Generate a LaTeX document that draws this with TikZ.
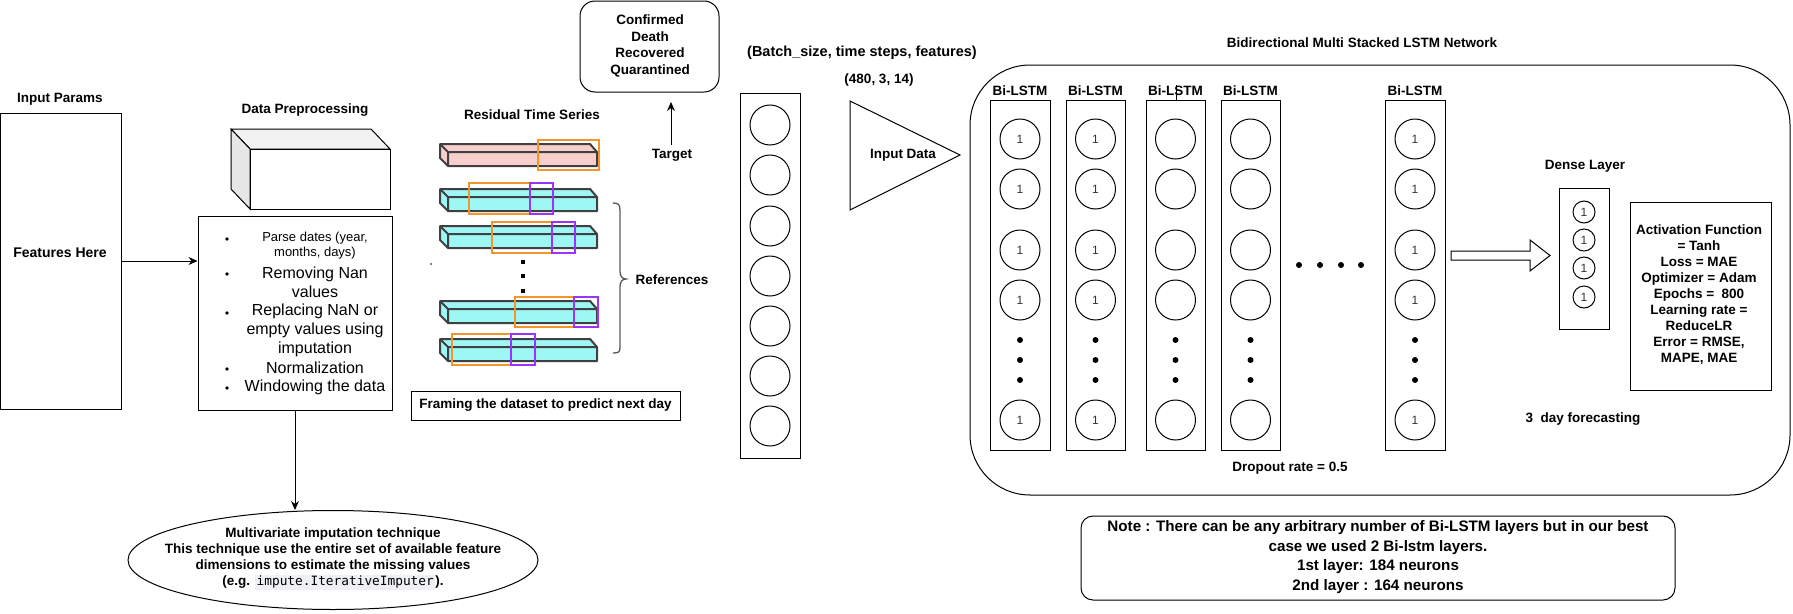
\documentclass[tikz,border=0pt]{standalone}
\usepackage{fontspec}
\setmainfont{Liberation Sans}
\setmonofont{DejaVu Sans Mono}
\usetikzlibrary{arrows.meta,shapes.geometric}

\definecolor{barpink}{HTML}{F8CECC}
\definecolor{barcyan}{HTML}{9CF7F5}
\definecolor{barline}{HTML}{404040}
\definecolor{winorange}{HTML}{F0962D}
\definecolor{winpurple}{HTML}{9933FF}
\definecolor{sidegray}{HTML}{E6E6E6}
\definecolor{topgray}{HTML}{F2F2F2}
\definecolor{unitgray}{HTML}{333333}
\definecolor{codebg}{HTML}{EEF0F3}
\definecolor{bracegray}{HTML}{595959}

\tikzset{
  lbl/.style={font=\fontsize{13.5}{16.5}\selectfont\bfseries, align=center, inner sep=0},
  plain/.style={font=\fontsize{16}{19}\selectfont, align=center, inner sep=0},
  plainsm/.style={font=\fontsize{13}{15}\selectfont, align=center, inner sep=0},
  box/.style={draw, line width=1, inner sep=0},
  unit/.style={draw, circle, line width=1, minimum size=40, inner sep=0, text=unitgray, font=\fontsize{12}{12}\selectfont},
  dunit/.style={unit, minimum size=22},
  arr/.style={line width=1, -{Stealth[length=9,width=8]}},
  bar/.style={draw=barline, line width=2, line join=round},
  win/.style={line width=2}
}

\begin{document}
\begin{tikzpicture}[x=1pt,y=1pt,yscale=-1]
\useasboundingbox (0,0) rectangle (1793,613);

% Input params
\node[lbl] (inlbl) at (60,99) {Input Params};
\node[box, minimum width=120.5, minimum height=296] (inparams) at (60.75,261) {};
\node[lbl, font=\fontsize{14}{16}\selectfont\bfseries] (feat) at (60,253) {Features Here};

% Data preprocessing (3D block)
\node[lbl] (preplbl) at (305,110) {Data Preprocessing};
\filldraw[line width=1, fill=topgray] (231,129) -- (371,129) -- (390,149) -- (250,149) -- cycle;
\filldraw[line width=1, fill=sidegray] (231,129) -- (250,149) -- (250,209) -- (231,189) -- cycle;
\draw[line width=1, fill=white] (250,149) rectangle (390,209);

% Preprocessing steps
\node[box, minimum width=194, minimum height=194] (prep) at (295,313) {};
\node[plainsm] (parse) at (315,245.5) {Parse dates (year,\\months, days)};
\node[plain] (nan) at (315,282) {Removing Nan\\values};
\node[plain] (replace) at (315,330) {Replacing NaN or\\empty values using\\imputation};
\node[plain] (norm) at (315,368) {Normalization};
\node[plain] (window) at (315,387) {Windowing the data};
\fill (227,239) circle (1.8);
\fill (227,274) circle (1.8);
\fill (227,313) circle (1.8);
\fill (227,369) circle (1.8);
\fill (227,388) circle (1.8);

% Imputation ellipse
\node[draw, ellipse, line width=1, minimum width=410, minimum height=99, inner sep=0] (impute) at (333,560) {};
\node[lbl, font=\fontsize{13.5}{16}\selectfont\bfseries] (imputetxt) at (333,559) {Multivariate imputation technique\\
  This technique use the entire set of available feature\\
  dimensions to estimate the missing values\\
  (e.g. {\setlength{\fboxsep}{1.5pt}\colorbox{codebg}{\mdseries\ttfamily\fontsize{12.8}{14}\selectfont impute.IterativeImputer}}).};

% Arrows of the left part
\draw[arr] (inparams.east) -- (inparams.east -| prep.west);
\draw[arr] (prep.south) -- (prep.south |- impute.north);

% Residual time series
\node[lbl] (reslbl) at (532,115) {Residual Time Series};
\filldraw[bar, fill=barpink] (440,144) -- (590,144) -- (597,152) -- (597,166) -- (448,166) -- (440,158) -- cycle;
\draw[bar] (440,144) -- (448,152) -- (597,152) (448,152) -- (448,166);
\draw[win, winorange] (538,140) rectangle (599,170);
%
\filldraw[bar, fill=barcyan] (440,189) -- (590,189) -- (597,197) -- (597,211) -- (448,211) -- (440,203) -- cycle;
\draw[bar] (440,189) -- (448,197) -- (597,197) (448,197) -- (448,211);
\draw[win, winorange] (469,183) rectangle (530,214);
\draw[win, winpurple] (530,183) rectangle (553,214);
%
\filldraw[bar, fill=barcyan] (440,226) -- (590,226) -- (597,234) -- (597,248) -- (448,248) -- (440,240) -- cycle;
\draw[bar] (440,226) -- (448,234) -- (597,234) (448,234) -- (448,248);
\draw[win, winorange] (492,222) rectangle (552,253);
\draw[win, winpurple] (552,222) rectangle (575,253);
%
\filldraw[bar, fill=barcyan] (440,301) -- (590,301) -- (597,309) -- (597,323) -- (448,323) -- (440,315) -- cycle;
\draw[bar] (440,301) -- (448,309) -- (597,309) (448,309) -- (448,323);
\draw[win, winorange] (515,297) rectangle (574,327);
\draw[win, winpurple] (574,297) rectangle (598,327);
%
\filldraw[bar, fill=barcyan] (440,339) -- (590,339) -- (597,347) -- (597,361) -- (448,361) -- (440,353) -- cycle;
\draw[bar] (440,339) -- (448,347) -- (597,347) (448,347) -- (448,361);
\draw[win, winorange] (452,334) rectangle (511,365);
\draw[win, winpurple] (511,334) rectangle (535,365);
%
\fill (521,260) rectangle (525,264);
\fill (521,274) rectangle (525,278);
\fill (521,289) rectangle (525,293);
\fill (431,264) circle (0.8);

% Brace and references
\draw[bracegray, line width=1.3] (613,203) .. controls (619,203) and (620,205) .. (620,211) -- (620,271)
  .. controls (620,276) and (622,279) .. (626,279) .. controls (622,279) and (620,282) .. (620,287)
  -- (620,347) .. controls (620,352) and (619,353) .. (613,353);
\node[lbl] (refs) at (672,280) {References};
\node[box, minimum width=269, minimum height=29] (frame) at (545.5,405.5) {};
\node[lbl] (frametxt) at (545.5,405.5) {Framing the dataset to predict next day};

% Target
\node[box, rounded corners=15, minimum width=139, minimum height=91] (target) at (649.5,46.5) {};
\node[lbl, font=\fontsize{13.5}{16.7}\selectfont\bfseries] (targettxt) at (650,46) {Confirmed\\Death\\Recovered\\Quarantined};
\node[lbl] (tgtlbl) at (672,155) {Target};
\coordinate (tgttip) at (671,102);
\draw[arr] (tgtlbl.north) ++(-1,-4) -- (tgttip);

% Input layer
\node[lbl, font=\fontsize{14.5}{16.5}\selectfont\bfseries] (shapelbl) at (862,53) {(Batch\_size, time steps, features)};
\node[lbl] (shapeval) at (879,80) {(480, 3, 14)};
\node[box, minimum width=60, minimum height=365] (incol) at (770,275.5) {};
\node[unit] (in1) at (770,125) {};
\node[unit] (in2) at (770,175) {};
\node[unit] (in3) at (770,226) {};
\node[unit] (in4) at (770,276) {};
\node[unit] (in5) at (770,326) {};
\node[unit] (in6) at (770,376) {};
\node[unit] (in7) at (770,426) {};
\draw[line width=1] (850,101) -- (960,155) -- (850,210) -- cycle;
\node[lbl] (indata) at (903,155) {Input Data};

% Bi-LSTM network
\draw[line width=1, rounded corners=60] (970,65) rectangle (1790,495);
\node[lbl] (netlbl) at (1362,43) {Bidirectional Multi Stacked LSTM Network};
%
\node[lbl] (la) at (1020,91) {Bi-LSTM};
\node[box, minimum width=60, minimum height=350] (lstmA) at (1020,275) {};
\node[unit] (a1) at (1020,139) {1};
\node[unit] (a2) at (1020,189) {1};
\node[unit] (a3) at (1020,250) {1};
\node[unit] (a4) at (1020,300) {1};
\node[unit] (a5) at (1020,420) {1};
\fill (1020,340) circle (3) (1020,360) circle (3) (1020,380) circle (3);
%
\node[lbl] (lb) at (1095.5,91) {Bi-LSTM};
\node[box, minimum width=59, minimum height=350] (lstmB) at (1095.5,275) {};
\node[unit] (b1) at (1095.5,139) {1};
\node[unit] (b2) at (1095.5,189) {1};
\node[unit] (b3) at (1095.5,250) {1};
\node[unit] (b4) at (1095.5,300) {1};
\node[unit] (b5) at (1095.5,420) {1};
\fill (1095.5,340) circle (3) (1095.5,360) circle (3) (1095.5,380) circle (3);
%
\node[lbl] (lc) at (1175.5,91) {Bi-LSTM};
\draw[line width=1] (1176,85) -- (1176,100);
\node[box, minimum width=59, minimum height=350] (lstmC) at (1175.5,275) {};
\node[unit] (c1) at (1175.5,139) {};
\node[unit] (c2) at (1175.5,189) {};
\node[unit] (c3) at (1175.5,250) {};
\node[unit] (c4) at (1175.5,300) {};
\node[unit] (c5) at (1175.5,420) {};
\fill (1175.5,340) circle (3) (1175.5,360) circle (3) (1175.5,380) circle (3);
%
\node[lbl] (ld) at (1250.5,91) {Bi-LSTM};
\node[box, minimum width=59, minimum height=350] (lstmD) at (1250.5,275) {};
\node[unit] (d1) at (1250.5,139) {};
\node[unit] (d2) at (1250.5,189) {};
\node[unit] (d3) at (1250.5,250) {};
\node[unit] (d4) at (1250.5,300) {};
\node[unit] (d5) at (1250.5,420) {};
\fill (1250.5,340) circle (3) (1250.5,360) circle (3) (1250.5,380) circle (3);
%
\fill (1299,265) circle (3) (1320,265) circle (3) (1341,265) circle (3) (1361,265) circle (3);
%
\node[lbl] (le) at (1415,91) {Bi-LSTM};
\node[box, minimum width=60, minimum height=350] (lstmE) at (1415,275) {};
\node[unit] (e1) at (1415,139) {1};
\node[unit] (e2) at (1415,189) {1};
\node[unit] (e3) at (1415,250) {1};
\node[unit] (e4) at (1415,300) {1};
\node[unit] (e5) at (1415,420) {1};
\fill (1415,340) circle (3) (1415,360) circle (3) (1415,380) circle (3);
%
\node[lbl] (dropout) at (1290,468) {Dropout rate = 0.5};

% Dense layer
\draw[line width=1, fill=white] (1451,251) -- (1530,251) -- (1530,240) -- (1550,255.5) -- (1530,271) -- (1530,260) -- (1451,260) -- cycle;
\node[lbl] (denselbl) at (1585,166) {Dense Layer};
\node[box, minimum width=50, minimum height=141] (dense) at (1584,258.5) {};
\node[dunit] (o1) at (1584,212) {1};
\node[dunit] (o2) at (1584,240) {1};
\node[dunit] (o3) at (1584,268) {1};
\node[dunit] (o4) at (1584,297) {1};
\node[lbl] (forecast) at (1583,419) {3\ \ day forecasting};

% Training settings
\node[box, minimum width=141, minimum height=188] (settings) at (1700.5,296) {};
\node[lbl, font=\fontsize{13.5}{16}\selectfont\bfseries] (settingstxt) at (1699,295) {Activation Function\\= Tanh\\Loss = MAE\\Optimizer = Adam\\Epochs = \ 800\\Learning rate =\\ReduceLR\\Error = RMSE,\\MAPE, MAE};

% Note
\node[box, rounded corners=12, minimum width=594, minimum height=84] (note) at (1378,558) {};
\node[lbl, font=\fontsize{15.2}{19.5}\selectfont\bfseries] (notetxt) at (1378,557) {Note : There can be any arbitrary number of Bi-LSTM layers but in our best\\case we used 2 Bi-lstm layers.\\1st layer: 184 neurons\\2nd layer : 164 neurons};

\end{tikzpicture}
\end{document}
